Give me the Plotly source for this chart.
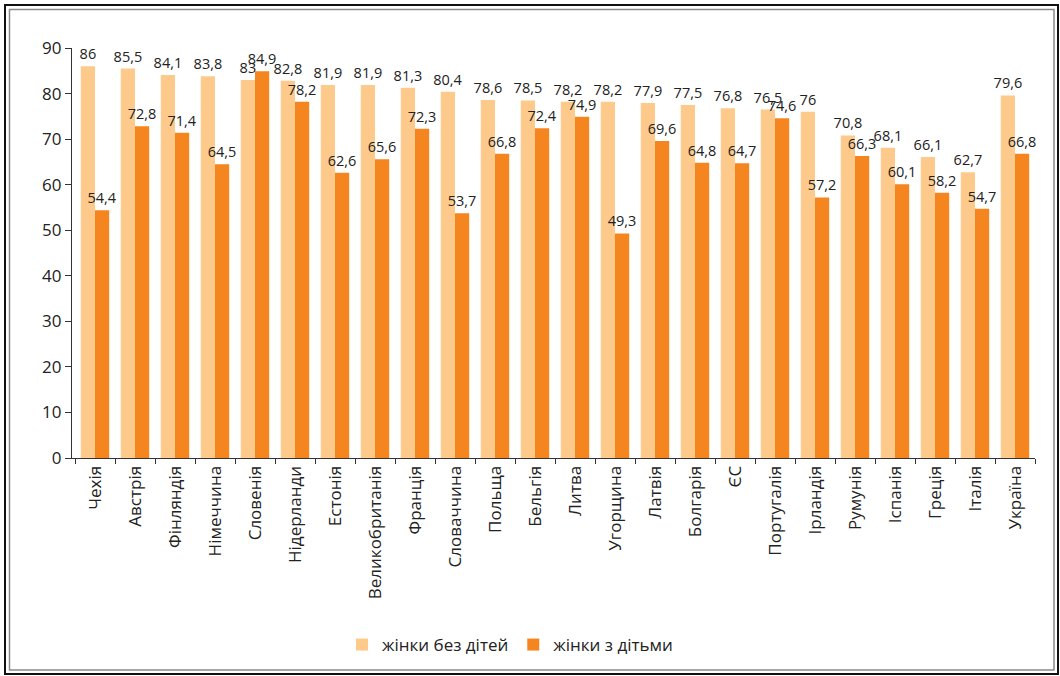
import plotly.graph_objects as go

categories = ["Чехія", "Австрія", "Фінляндія", "Німеччина", "Словенія", "Нідерланди",
              "Естонія", "Великобританія", "Франція", "Словаччина", "Польща", "Бельгія",
              "Литва", "Угорщина", "Латвія", "Болгарія", "ЄС", "Португалія", "Ірландія",
              "Румунія", "Іспанія", "Греція", "Італія", "Україна"]
without_children = [86, 85.5, 84.1, 83.8, 83, 82.8, 81.9, 81.9, 81.3, 80.4, 78.6, 78.5,
                    78.2, 78.2, 77.9, 77.5, 76.8, 76.5, 76, 70.8, 68.1, 66.1, 62.7, 79.6]
with_children = [54.4, 72.8, 71.4, 64.5, 84.9, 78.2, 62.6, 65.6, 72.3, 53.7, 66.8, 72.4,
                 74.9, 49.3, 69.6, 64.8, 64.7, 74.6, 57.2, 66.3, 60.1, 58.2, 54.7, 66.8]
series_names = ["жінки без дітей", "жінки з дітьми"]
y_ticks = [0, 10, 20, 30, 40, 50, 60, 70, 80, 90]

LIGHT = "#FDCA8B"
DARK = "#F5861F"
FONT = "Open Sans"


def fmt(v):
    return f"{v:g}".replace(".", ",")


fig = go.Figure()
for name, vals, col in [(series_names[0], without_children, LIGHT),
                        (series_names[1], with_children, DARK)]:
    fig.add_trace(go.Bar(
        x=categories, y=vals, name=name, marker=dict(color=col, line=dict(width=0)),
        text=[fmt(v) for v in vals], textposition="outside", constraintext="none",
        cliponaxis=False,
        textfont=dict(family=FONT, size=14.5, color="#222222"),
    ))

# plot area geometry in pixels
L, R, T, B = 72, 1035, 48, 458
W, H = R - L, B - T


def px(x):
    return (x - L) / W


def py(y):
    return (B - y) / H


shapes = [
    dict(type="rect", xref="paper", yref="paper", x0=px(5), x1=px(1058), y0=py(674), y1=py(5),
         line=dict(color="#111111", width=2), layer="below"),
    dict(type="rect", xref="paper", yref="paper", x0=px(9.5), x1=px(1054), y0=py(670), y1=py(9.5),
         line=dict(color="#8a8a8a", width=1.5), layer="below"),
]

fig.update_layout(
    width=1060, height=676,
    margin=dict(l=L, r=1060 - R, t=T, b=676 - B),
    paper_bgcolor="white", plot_bgcolor="white",
    barmode="group", bargap=0.29, bargroupgap=0,
    font=dict(family=FONT, color="#222222"),
    showlegend=True,
    legend=dict(orientation="h", x=px(510), xanchor="center", y=py(645), yanchor="middle",
                font=dict(family=FONT, size=17, color="#222222"), itemwidth=30,
                traceorder="normal"),
    shapes=shapes,
)
fig.update_xaxes(
    type="category", range=[-0.575, 23.5], showgrid=False, showline=True,
    linecolor="#333333", linewidth=1.2, ticks="outside", ticklen=5, tickcolor="#333333",
    tickson="boundaries", tickangle=-90, tickfont=dict(family=FONT, size=17, color="#222222"),
)
fig.update_yaxes(
    range=[0, 90], tickvals=y_ticks, showgrid=False, showline=True, zeroline=False,
    linecolor="#333333", linewidth=1.2, ticks="outside", ticklen=6, tickcolor="#333333",
    tickfont=dict(family=FONT, size=17, color="#222222"),
)

fig.write_html("out.html", config={"displayModeBar": False},
               post_script="document.body.style.margin='0px';document.body.style.overflow='hidden';")
